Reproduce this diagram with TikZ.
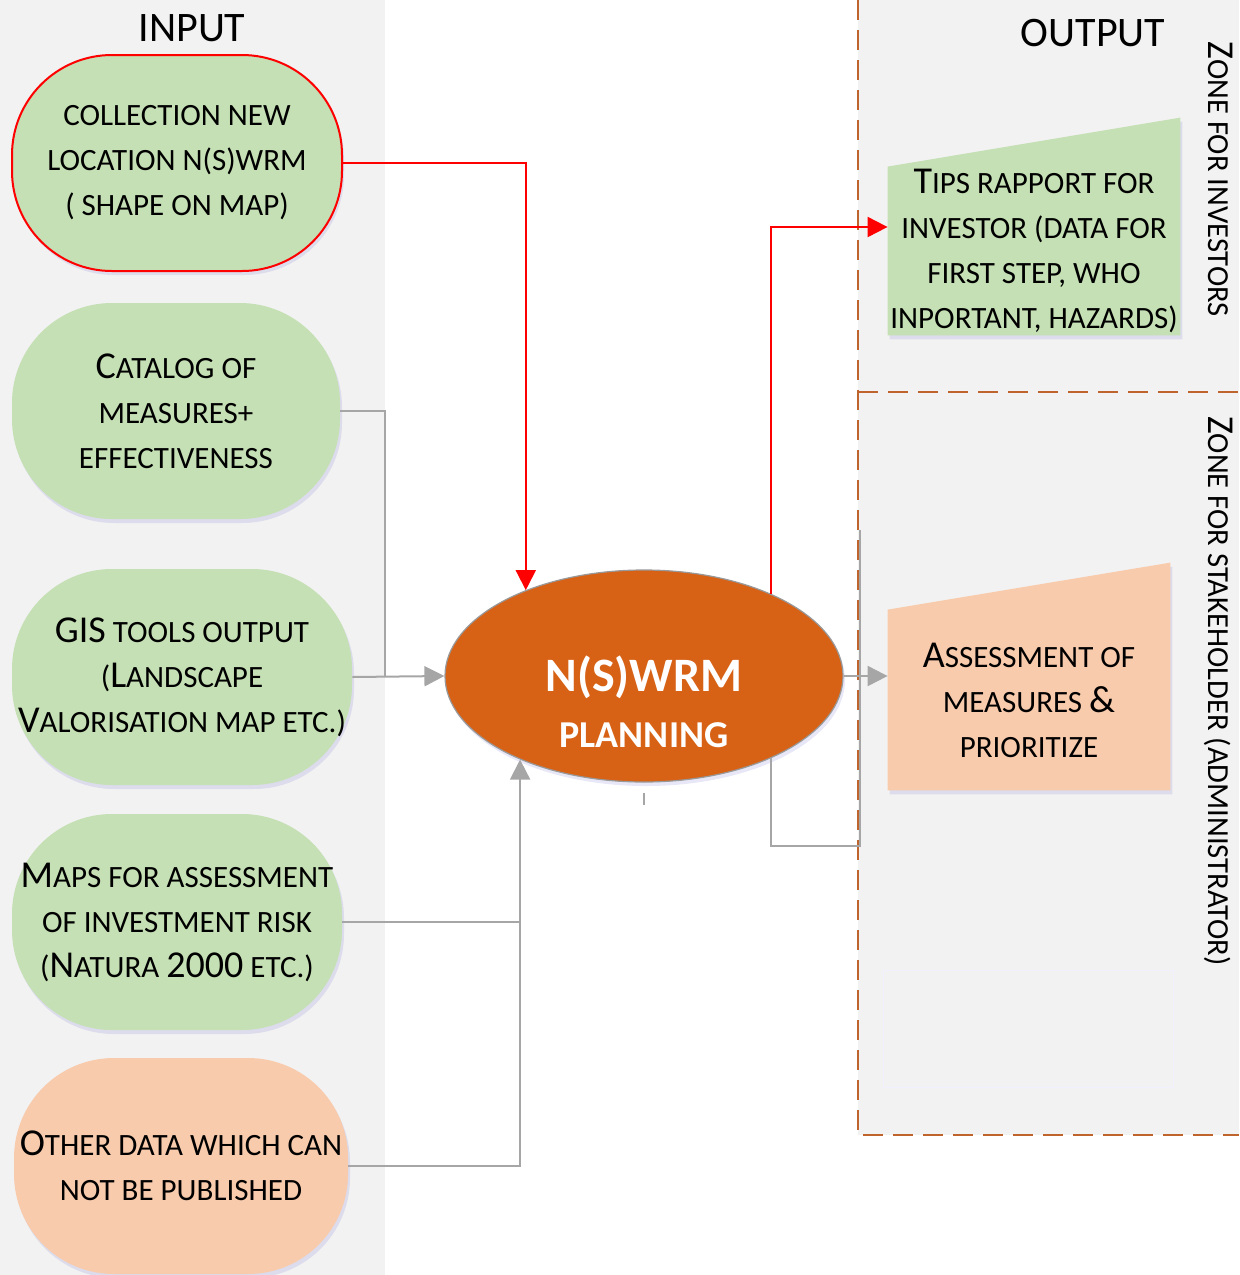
\documentclass[tikz,border=0pt]{standalone}
\usepackage{fontspec}
\setmainfont{Carlito}
\usetikzlibrary{shapes.geometric,arrows.meta,shadows,backgrounds}
\pgfdeclarelayer{back}
\pgfsetlayers{back,background,main}
\definecolor{ingreen}{RGB}{197,224,180}
\definecolor{inpeach}{RGB}{248,203,173}
\definecolor{planorange}{RGB}{215,98,22}
\definecolor{zonebrown}{RGB}{192,100,45}
\definecolor{linegray}{RGB}{166,166,166}
\definecolor{bggray}{RGB}{242,242,242}
\newcommand{\capl}[1]{{\fontsize{19}{19}\selectfont #1}}
\tikzstyle{softshadow}=[drop shadow={shadow xshift=1pt,shadow yshift=-2pt,fill=blue!50!gray!70,opacity=0.18}]
\tikzstyle{inbox}=[rectangle,rounded corners=50pt,minimum width=165pt,minimum height=108pt,inner sep=0pt,align=center,fill=ingreen,font=\fontsize{15.5}{22.5}\selectfont,softshadow]
\tikzstyle{outbox}=[rectangle,minimum width=146pt,minimum height=84pt,inner sep=0pt,align=center,font=\fontsize{15.5}{22.5}\selectfont]
\tikzstyle{planell}=[ellipse,minimum width=199pt,minimum height=106pt,inner sep=0pt,fill=planorange,draw=gray!80,line width=0.6pt,text=white,font=\bfseries\fontsize{19}{19}\selectfont,softshadow]
\tikzstyle{title}=[font=\fontsize{21}{21}\selectfont]
\tikzstyle{zonelab}=[rotate=-90,font=\fontsize{15.3}{15.3}\selectfont]
\tikzstyle{zoneline}=[zonebrown,line width=1.3pt,dash pattern=on 10pt off 5pt]
\tikzstyle{grayline}=[linegray,line width=1pt]
\tikzstyle{redline}=[red,line width=1pt]
\tikzstyle{tip}=[-{Triangle[length=10pt,width=10pt]}]

\begin{document}
\begin{tikzpicture}[x=0.5pt,y=-0.5pt]
    \useasboundingbox (0,0) rectangle (1239,1275);
    \begin{pgfonlayer}{back}
    \fill[bggray] (0,0) rectangle (385,1275);
    \fill[bggray] (858,0) rectangle (1239,1135);
    \draw[zoneline] (858,0) -- (858,1135) -- (1239,1135);
    \draw[zoneline] (858,392) -- (1239,392);
    \draw[blue!6,line width=0.5pt] (883,970) rectangle (1173,1087);
    \end{pgfonlayer}

    \node[title] (inlab) at (192,28) {INPUT};
    \node[title] (outlab) at (1093,33) {OUTPUT};

    \node[inbox,draw=red,line width=1pt] (coll) at (177,163) {COLLECTION NEW\\LOCATION N(S)WRM\\( SHAPE ON MAP)};
    \node[inbox,minimum width=164pt] (cat) at (176,411) {\capl{C}ATALOG OF\\MEASURES+\\EFFECTIVENESS};
    \node[inbox,minimum width=170pt] (gis) at (182,677) {\capl{GIS} TOOLS OUTPUT\\(\capl{L}ANDSCAPE\\\capl{V}ALORISATION MAP ETC.)};
    \node[inbox] (maps) at (177,922) {\capl{M}APS FOR ASSESSMENT\\OF INVESTMENT RISK\\(\capl{N}ATURA \capl{2000} ETC.)};
    \node[inbox,fill=inpeach,minimum width=167pt] (other) at (181,1166) {\capl{O}THER DATA WHICH CAN\\NOT BE PUBLISHED};

    \node[planell] (plan) at (644,676) {\raisebox{-20pt}[0pt][0pt]{\begin{tabular}{@{}c@{}}{\fontsize{24}{24}\selectfont N(S)WRM}\\[9pt]PLANNING\end{tabular}}};

    \node[outbox] (tips) at (1034,251) {\capl{T}IPS RAPPORT FOR\\INVESTOR (DATA FOR\\FIRST STEP, WHO\\INPORTANT, HAZARDS)};
    \node[outbox,minimum width=141pt,minimum height=90pt] (assess) at (1029,700) {\capl{A}SSESSMENT OF\\MEASURES \capl{\&}\\PRIORITIZE};

    \node[zonelab] (zinv) at (1221,179) {\capl{Z}ONE FOR INVESTORS};
    \node[zonelab] (zsta) at (1219,691) {\capl{Z}ONE FOR STAKEHOLDER (ADMINISTRATOR)};

    \begin{pgfonlayer}{background}
    \fill[ingreen,softshadow] (tips.south west) -- (tips.north west) -- ([yshift=24.5pt]tips.north east) -- (tips.south east) -- cycle;
    \fill[inpeach,softshadow] (assess.south west) -- (assess.north west) -- ([yshift=23.5pt]assess.north east) -- (assess.south east) -- cycle;
    \end{pgfonlayer}

    \coordinate (j1) at (385,677);
    \coordinate (j2) at (maps.east -| plan.214.5);
    \coordinate (e1) at (860,530);
    \coordinate (e2) at (860,846);

    \draw[redline,tip] (coll.east) -| (plan.144.7);
    \draw[redline,tip] (plan.33.4) |- ([yshift=12pt]tips.west);

    \draw[grayline] (cat.east) -| (j1);
    \draw[grayline,tip] (gis.east) -- (plan.west);
    \draw[grayline,tip] (maps.east) -| (plan.214.5);
    \draw[grayline] (other.east) -| (j2);
    \draw[grayline,tip] (plan.east) -- (plan.east -| assess.west);
    \draw[grayline] (plan.-33.4) |- (e2) -- (e1);
    \draw[grayline] ([yshift=-5pt]plan.south) -- ++(0,12);
\end{tikzpicture}
\end{document}
